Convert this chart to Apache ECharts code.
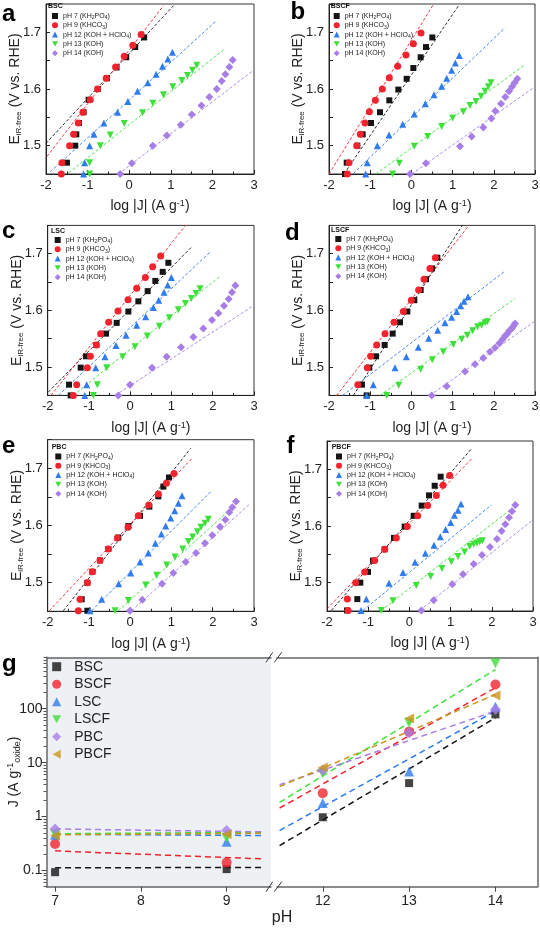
<!DOCTYPE html>
<html><head><meta charset="utf-8">
<script src="https://cdn.jsdelivr.net/npm/echarts@6/dist/echarts.min.js"></script>
<style>html,body{margin:0;padding:0;background:#fff}#c{width:540px;height:928px}</style>
</head><body><div id="c"></div>
<script>
// ---------- DATA ----------
const phNames = ['pH 7 (KH2PO4)', 'pH 9 (KHCO3)', 'pH 12 (KOH + HClO4)', 'pH 13 (KOH)', 'pH 14 (KOH)'];
const phRich = ['pH 7 (KH{s|2}PO{s|4})', 'pH 9 (KHCO{s|3})', 'pH 12 (KOH + HClO{s|4})', 'pH 13 (KOH)', 'pH 14 (KOH)'];
const panelTitles = ['BSC', 'BSCF', 'LSC', 'LSCF', 'PBC', 'PBCF'];
const panelLetters = ['a', 'b', 'c', 'd', 'e', 'f'];
const xTicksPanel = [-2, -1, 0, 1, 2, 3];
const yTicksPanel = [1.5, 1.6, 1.7];

// panel a (BSC)
const a_pH7 = [[0.36,1.691],[0.144,1.674],[-0.072,1.656],[-0.304,1.638],[-0.536,1.619],[-0.752,1.6],[-0.976,1.581],[-1.096,1.559],[-1.208,1.54],[-1.272,1.52],[-1.296,1.5],[-1.496,1.47]];
const a_pH9 = [[0.288,1.696],[0.088,1.677],[-0.12,1.658],[-0.328,1.639],[-0.552,1.619],[-0.76,1.6],[-0.936,1.581],[-1.112,1.559],[-1.224,1.54],[-1.336,1.52],[-1.432,1.5],[-1.616,1.47],[-1.632,1.45]];
const a_pH12 = [[1.04,1.665],[0.928,1.653],[0.8,1.64],[0.648,1.626],[0.448,1.611],[0.2,1.596],[-0.032,1.578],[-0.28,1.559],[-0.608,1.54],[-0.848,1.52],[-0.952,1.5],[-1.072,1.47],[-1.096,1.45]];
const a_pH13 = [[1.624,1.642],[1.52,1.633],[1.4,1.624],[1.264,1.615],[1.048,1.604],[0.824,1.59],[0.568,1.575],[0.32,1.558],[-0.12,1.539],[-0.456,1.519],[-0.696,1.5],[-0.952,1.47],[-0.952,1.45]];
const a_pH14 = [[2.488,1.651],[2.408,1.639],[2.312,1.626],[2.224,1.614],[2.104,1.6],[1.928,1.586],[1.736,1.571],[1.504,1.555],[1.24,1.537],[0.904,1.518],[0.568,1.5],[0.064,1.469],[-0.216,1.45]];
const a_fits = [[[-2,1.504],[1.064,1.747]], [[-1.976,1.481],[0.824,1.747]], [[-1.896,1.454],[2.104,1.721]], [[-1.456,1.452],[2.264,1.669]], [[-0.256,1.45],[2.984,1.633]]];

// panel b (BSCF)
const b_pH7 = [[0.508,1.691],[0.354,1.674],[0.225,1.656],[0.047,1.637],[-0.115,1.618],[-0.317,1.599],[-0.536,1.58],[-0.762,1.559],[-0.98,1.54],[-1.183,1.52],[-1.312,1.5],[-1.57,1.47],[-1.612,1.45]];
const b_pH9 = [[0.233,1.699],[0.047,1.68],[-0.131,1.66],[-0.333,1.64],[-0.536,1.62],[-0.706,1.6],[-0.875,1.58],[-1.02,1.56],[-1.126,1.54],[-1.24,1.52],[-1.328,1.5],[-1.515,1.47],[-1.555,1.45]];
const b_pH12 = [[1.163,1.659],[1.066,1.646],[0.977,1.633],[0.856,1.619],[0.735,1.605],[0.549,1.59],[0.338,1.574],[0.071,1.556],[-0.212,1.538],[-0.544,1.519],[-0.827,1.5],[-1.07,1.47],[-1.11,1.45]];
const b_pH13 = [[1.932,1.611],[1.867,1.604],[1.786,1.596],[1.689,1.587],[1.568,1.578],[1.422,1.571],[1.26,1.56],[1.001,1.549],[0.735,1.534],[0.395,1.516],[0.071,1.499],[-0.293,1.469],[-0.455,1.45]];
const b_pH14 = [[2.571,1.618],[2.506,1.611],[2.442,1.604],[2.369,1.596],[2.28,1.586],[2.175,1.574],[2.037,1.561],[1.94,1.548],[1.746,1.532],[1.463,1.516],[1.18,1.499],[0.354,1.469],[-0.034,1.45]];
const b_fits = [[[-1.636,1.45],[1.163,1.749]], [[-2,1.45],[0.532,1.749]], [[-1.41,1.451],[2.27,1.708]], [[-0.859,1.45],[2.757,1.643]], [[0.006,1.45],[2.96,1.602]]];

// panel c (LSC)
const c_pH7 = [[0.924,1.684],[0.787,1.668],[0.609,1.652],[0.423,1.634],[0.197,1.616],[-0.045,1.598],[-0.328,1.578],[-0.586,1.559],[-0.821,1.539],[-1.071,1.519],[-1.2,1.499],[-1.483,1.469],[-1.443,1.45]];
const c_pH9 = [[0.738,1.696],[0.544,1.677],[0.367,1.658],[0.157,1.639],[-0.053,1.619],[-0.296,1.599],[-0.522,1.579],[-0.716,1.559],[-0.821,1.539],[-0.966,1.519],[-1.039,1.499],[-1.297,1.469],[-1.378,1.45]];
const c_pH12 = [[0.997,1.658],[0.908,1.645],[0.819,1.632],[0.69,1.618],[0.561,1.605],[0.375,1.589],[0.157,1.574],[-0.102,1.556],[-0.344,1.538],[-0.611,1.518],[-0.837,1.499],[-1.055,1.469],[-1.1,1.45]];
const c_pH13 = [[1.691,1.638],[1.594,1.63],[1.481,1.621],[1.336,1.612],[1.166,1.601],[0.948,1.587],[0.706,1.572],[0.415,1.555],[0.116,1.536],[-0.183,1.518],[-0.57,1.499],[-0.796,1.469],[-0.893,1.45]];
const c_pH14 = [[2.548,1.644],[2.467,1.632],[2.386,1.62],[2.273,1.608],[2.136,1.595],[1.982,1.583],[1.772,1.568],[1.53,1.553],[1.231,1.535],[0.884,1.518],[0.528,1.499],[-0.005,1.469],[-0.288,1.45]];
const c_fits = [[[-1.984,1.456],[1.49,1.712]], [[-1.919,1.45],[1.352,1.751]], [[-1.742,1.45],[1.95,1.704]], [[-1.378,1.45],[2.192,1.661]], [[-0.368,1.45],[3,1.609]]];

// panel d (LSCF)
const d_pH7 = [[0.629,1.693],[0.5,1.674],[0.354,1.655],[0.225,1.636],[0.071,1.618],[-0.099,1.598],[-0.277,1.579],[-0.455,1.559],[-0.649,1.539],[-0.859,1.519],[-1.021,1.499],[-1.2,1.469],[-1.086,1.45]];
const d_pH9 = [[0.581,1.693],[0.451,1.674],[0.306,1.655],[0.176,1.636],[-0.002,1.618],[-0.196,1.598],[-0.422,1.579],[-0.641,1.559],[-0.843,1.539],[-0.989,1.519],[-1.07,1.499],[-1.3,1.469]];
const d_pH12 = [[1.374,1.624],[1.277,1.616],[1.196,1.608],[1.099,1.598],[0.977,1.588],[0.816,1.578],[0.638,1.565],[0.419,1.551],[0.168,1.535],[-0.123,1.518],[-0.398,1.499],[-0.924,1.469],[-1.086,1.45]];
const d_pH13 = [[1.843,1.58],[1.786,1.578],[1.705,1.574],[1.608,1.571],[1.487,1.564],[1.357,1.556],[1.22,1.549],[1.018,1.54],[0.775,1.527],[0.508,1.513],[0.225,1.496],[-0.309,1.468],[-0.6,1.45]];
const d_pH14 = [[2.515,1.577],[2.474,1.572],[2.434,1.568],[2.377,1.564],[2.328,1.559],[2.272,1.555],[2.215,1.549],[2.134,1.542],[2.029,1.534],[1.908,1.527],[1.746,1.516],[1.544,1.505],[1.301,1.492],[0.856,1.466],[0.492,1.45]];
const d_fits = [[[-1.409,1.45],[1.244,1.751]], [[-1.814,1.45],[1.406,1.751]], [[-1.668,1.45],[2.248,1.668]], [[-0.762,1.45],[2.515,1.621]], [[0.451,1.45],[3,1.581]]];

// panel e (PBC)
const e_pH7 = [[0.94,1.684],[0.803,1.668],[0.682,1.651],[0.464,1.633],[0.237,1.617],[-0.045,1.599],[-0.288,1.579],[-0.53,1.559],[-0.732,1.539],[-0.918,1.519],[-1.039,1.5],[-1.176,1.471],[-1.039,1.451]];
const e_pH9 = [[1.061,1.691],[0.876,1.674],[0.682,1.655],[0.448,1.636],[0.197,1.617],[-0.053,1.597],[-0.312,1.578],[-0.53,1.559],[-0.732,1.539],[-0.918,1.519],[-1.039,1.5],[-1.216,1.471],[-1.257,1.451]];
const e_pH12 = [[1.255,1.652],[1.167,1.639],[1.078,1.626],[0.981,1.613],[0.86,1.599],[0.755,1.585],[0.609,1.569],[0.439,1.552],[0.237,1.536],[0.011,1.517],[-0.28,1.498],[-0.691,1.471],[-0.974,1.451]];
const e_pH13 = [[1.893,1.611],[1.813,1.604],[1.716,1.597],[1.627,1.589],[1.514,1.58],[1.409,1.572],[1.271,1.559],[1.086,1.545],[0.884,1.531],[0.641,1.513],[0.375,1.496],[-0.045,1.469],[-0.368,1.451]];
const e_pH14 = [[2.564,1.642],[2.475,1.632],[2.402,1.623],[2.305,1.61],[2.176,1.598],[1.99,1.583],[1.813,1.569],[1.595,1.552],[1.344,1.536],[1.045,1.517],[0.771,1.498],[0.294,1.47],[-0.005,1.451]];
const e_fits = [[[-1.62,1.451],[1.465,1.735]], [[-1.96,1.451],[1.514,1.719]], [[-0.934,1.451],[1.95,1.659]], [[-0.288,1.451],[2.499,1.633]], [[0.036,1.451],[2.887,1.637]]];

// panel f (PBCF)
const f_pH7 = [[0.759,1.687],[0.613,1.671],[0.476,1.654],[0.298,1.636],[0.104,1.618],[-0.115,1.599],[-0.374,1.579],[-0.6,1.559],[-0.883,1.539],[-1.005,1.519],[-1.191,1.5],[-1.264,1.471],[-1.515,1.451]];
const f_pH9 = [[0.977,1.689],[0.816,1.672],[0.654,1.654],[0.443,1.636],[0.201,1.618],[-0.05,1.599],[-0.317,1.579],[-0.6,1.559],[-0.843,1.539],[-1.086,1.519],[-1.304,1.5],[-1.506,1.471],[-1.49,1.451]];
const f_pH12 = [[1.252,1.639],[1.18,1.628],[1.091,1.619],[1.002,1.606],[0.88,1.594],[0.751,1.581],[0.597,1.566],[0.387,1.552],[0.136,1.536],[-0.155,1.518],[-0.495,1.499],[-1.045,1.471],[-1.175,1.451]];
const f_pH13 = [[1.77,1.574],[1.706,1.572],[1.641,1.57],[1.56,1.568],[1.463,1.564],[1.341,1.554],[1.18,1.546],[1.018,1.537],[0.791,1.525],[0.516,1.511],[0.168,1.495],[-0.398,1.468],[-0.681,1.451]];
const f_pH14 = [[2.571,1.637],[2.49,1.626],[2.417,1.615],[2.328,1.603],[2.239,1.591],[2.126,1.577],[1.956,1.563],[1.762,1.549],[1.56,1.533],[1.301,1.515],[1.042,1.497],[0.589,1.469],[0.29,1.451]];
const f_fits = [[[-1.895,1.451],[1.503,1.736]], [[-2,1.454],[1.503,1.718]], [[-1.126,1.451],[1.989,1.637]], [[-0.681,1.451],[2.434,1.628]], [[0.249,1.451],[3,1.611]]];

// panel g
const gNames = ['BSC', 'BSCF', 'LSC', 'LSCF', 'PBC', 'PBCF'];
const gPhLeft = [7, 9];
const gPhRight = [12, 13, 14];
const gTicksXLeft = [7, 8, 9];
const gTicksXRight = [12, 13, 14];
const gTicksY = [0.1, 1, 10, 100];
const g_BSC  = [0.093, 0.106, 0.97, 4.17, 78.6];
const g_BSCF = [0.31, 0.14, 2.72, 37.6, 282];
const g_LSC  = [0.46, 0.34, 1.78, 6.84, 109];
const g_LSCF = [0.47, 0.40, 6.3, 55, 689];
const g_PBC  = [0.59, 0.55, 7.24, 36, 97];
const g_PBCF = [0.44, 0.47, 8.1, 66, 176];
// fitted lines: left [pH7 value, pH9.41 value], right [pH11.5 value, pH14 value]
const gFitLeftX = [7, 9.41];
const gFitRightX = [11.5, 14];
const g_fitLeft  = [[0.112, 0.114], [0.231, 0.164], [0.47, 0.445], [0.48, 0.51], [0.59, 0.52], [0.46, 0.49]];
const g_fitRight = [[0.29, 68], [1.44, 245], [0.55, 90.6], [1.83, 533], [3.88, 90.6], [3.6, 184]];

// ---------- STYLE / LAYOUT ----------
const FONT = 'Liberation Sans, Arial, Helvetica, sans-serif';
const INK = '#222';
const colors = ['#151515', '#f3232e', '#2f7cf0', '#3ee03a', '#a77de6', '#c8961c'];
const DOWN = 'path://M0,0L10,0L5,9Z';
const LEFT = 'path://M0,5L9,0L9,10Z';
const pSymbols = ['rect', 'circle', 'triangle', DOWN, 'diamond'];
const pSizes = [6, 7, 7, 7, 8];
const gSymbols = ['rect', 'circle', 'triangle', DOWN, 'diamond', LEFT];
const gSizes = [8, 10, 10, 10, 11, 10];

const panelData = [
  [a_pH7, a_pH9, a_pH12, a_pH13, a_pH14],
  [b_pH7, b_pH9, b_pH12, b_pH13, b_pH14],
  [c_pH7, c_pH9, c_pH12, c_pH13, c_pH14],
  [d_pH7, d_pH9, d_pH12, d_pH13, d_pH14],
  [e_pH7, e_pH9, e_pH12, e_pH13, e_pH14],
  [f_pH7, f_pH9, f_pH12, f_pH13, f_pH14]
];
const panelFits = [a_fits, b_fits, c_fits, d_fits, e_fits, f_fits];
const gData = [g_BSC, g_BSCF, g_LSC, g_LSCF, g_PBC, g_PBCF];

const layout = [
  {grid: {left: 46, top: 4, width: 208, height: 170}, legend: [52, 11.5], title: [48, 6], letter: [2, 14.7]},
  {grid: {left: 329, top: 4, width: 206, height: 170}, legend: [333.7, 11.5], title: [330.7, 6], letter: [290.5, 12.4]},
  {grid: {left: 47.7, top: 225.4, width: 206.3, height: 170}, legend: [54.7, 235.5], title: [51, 230.7], letter: [2, 231.7]},
  {grid: {left: 329, top: 225.4, width: 206, height: 170}, legend: [335.3, 234.5], title: [331, 230], letter: [285, 233.4]},
  {grid: {left: 47.7, top: 439.7, width: 206.3, height: 171.6}, legend: [55.3, 452], title: [51.7, 446.7], letter: [2, 446.7]},
  {grid: {left: 327, top: 441, width: 206, height: 170}, legend: [336, 452], title: [331.7, 447.3], letter: [286.5, 446.7]}
];

const grids = [], xAxes = [], yAxes = [], series = [], legends = [], graphics = [];

layout.forEach((L, i) => {
  grids.push(Object.assign({show: true, borderColor: '#333', borderWidth: 1, backgroundColor: 'transparent', outerBoundsMode: 'none'}, L.grid));
  xAxes.push({
    gridIndex: i, type: 'value', min: xTicksPanel[0], max: xTicksPanel[xTicksPanel.length - 1], interval: 1,
    axisLine: {show: true, onZero: false, lineStyle: {color: INK, width: 1}},
    axisTick: {show: true, inside: true, length: 4, lineStyle: {color: INK}},
    minorTick: {show: true, splitNumber: 2, length: 2.5, lineStyle: {color: INK}},
    axisLabel: {fontSize: 13, color: INK, margin: 5, fontFamily: FONT},
    splitLine: {show: false},
    name: 'log |J| (A g{sup|-1})', nameLocation: 'middle', nameGap: 25.5, nameMoveOverlap: false,
    nameTextStyle: {fontSize: 14, color: INK, fontFamily: FONT, rich: {sup: {fontSize: 9, lineHeight: 8, verticalAlign: 'top', color: INK, fontFamily: FONT}}}
  });
  yAxes.push({
    gridIndex: i, type: 'value', min: 1.45, max: 1.75, interval: 0.05,
    axisLine: {show: true, onZero: false, lineStyle: {color: INK, width: 1}},
    axisTick: {show: true, inside: true, length: 4, lineStyle: {color: INK}},
    axisLabel: {fontSize: 13, color: INK, margin: 5, fontFamily: FONT,
      formatter: v => { const r = Math.round(v * 10) / 10; return (Math.abs(v - r) < 1e-6 && yTicksPanel.indexOf(r) >= 0) ? r.toFixed(1) : ''; }},
    splitLine: {show: false},
    name: 'E{s|iR-free} (V vs. RHE)', nameLocation: 'middle', nameGap: 23, nameMoveOverlap: false,
    nameTextStyle: {fontSize: 14, lineHeight: 16, color: INK, fontFamily: FONT, rich: {s: {fontSize: 8, lineHeight: 8, verticalAlign: 'bottom', color: INK, fontFamily: FONT}}}
  });
  const pd = panelData[i], pf = panelFits[i];
  for (let k = 0; k < 5; k++) {
    series.push({type: 'line', name: 'fit' + i + '_' + k, xAxisIndex: i, yAxisIndex: i, data: pf[k], symbol: 'none', silent: true, z: 2,
      lineStyle: {color: colors[k], width: 1, type: [3, 2], opacity: 0.9}});
  }
  for (let k = 0; k < 5; k++) {
    series.push({type: 'scatter', name: phNames[k], xAxisIndex: i, yAxisIndex: i, data: pd[k], symbol: pSymbols[k], symbolSize: pSizes[k], z: 3,
      itemStyle: {color: colors[k], opacity: 1}});
  }
  legends.push({
    data: phNames, orient: 'vertical', left: L.legend[0], top: L.legend[1], itemWidth: 6, itemHeight: 6, itemGap: 0.3,
    selectedMode: false, padding: 0,
    formatter: n => phRich[phNames.indexOf(n)],
    textStyle: {fontSize: 7, lineHeight: 9, color: INK, fontFamily: FONT, rich: {s: {fontSize: 5, lineHeight: 5, verticalAlign: 'bottom', color: INK, fontFamily: FONT}}}
  });
  graphics.push({type: 'text', x: L.title[0], y: L.title[1], z: 10, style: {text: panelTitles[i], font: 'bold 7px ' + FONT, fill: '#111', verticalAlign: 'middle'}});
  graphics.push({type: 'text', x: L.letter[0], y: L.letter[1], z: 10, style: {text: panelLetters[i], font: 'bold 24px ' + FONT, fill: '#000', verticalAlign: 'middle'}});
});

// ---- panel g ----
const gTop = 657.3, gH = 229.4;
const gL = grids.length;
grids.push({show: true, left: 46.5, top: gTop, width: 224.5, height: gH, backgroundColor: '#eef1f3', borderWidth: 0, outerBoundsMode: 'none'});
grids.push({show: false, left: 277, top: gTop, width: 260.4, height: gH, outerBoundsMode: 'none'});
const gR = gL + 1;
const gAxisLine = {show: true, onZero: false, lineStyle: {color: '#666', width: 1.5}};
const gxBase = {type: 'value', splitLine: {show: false}};
const xLb = xAxes.length;
xAxes.push(Object.assign({}, gxBase, {gridIndex: gL, min: 6.9, max: 9.517, axisLine: gAxisLine,
  axisTick: {show: true, length: 5, customValues: gTicksXLeft, lineStyle: {color: '#444'}},
  axisLabel: {customValues: gTicksXLeft, fontSize: 14, color: INK, margin: 7, fontFamily: FONT}}));
xAxes.push(Object.assign({}, gxBase, {gridIndex: gL, position: 'top', min: 6.9, max: 9.517, axisLine: gAxisLine, axisTick: {show: false}, axisLabel: {show: false}}));
const xRb = xAxes.length;
xAxes.push(Object.assign({}, gxBase, {gridIndex: gR, min: 11.47, max: 14.486, axisLine: gAxisLine,
  axisTick: {show: true, length: 5, customValues: gTicksXRight, lineStyle: {color: '#444'}},
  axisLabel: {customValues: gTicksXRight, fontSize: 14, color: INK, margin: 7, fontFamily: FONT}}));
xAxes.push(Object.assign({}, gxBase, {gridIndex: gR, position: 'top', min: 11.47, max: 14.486, axisLine: gAxisLine, axisTick: {show: false}, axisLabel: {show: false}}));

const gMinor = [];
[0.01, 0.1, 1, 10, 100].forEach(d => { for (let m = 2; m <= 9; m++) { const v = +(m * d).toPrecision(3); if (v >= 0.05 && v <= 900) gMinor.push(v); } });
const yLb = yAxes.length;
yAxes.push({gridIndex: gL, type: 'log', logBase: 10, min: 0.05, max: 900, position: 'left', axisLine: gAxisLine,
  axisTick: {show: true, length: 5, customValues: gTicksY, lineStyle: {color: '#444'}},
  axisLabel: {customValues: gTicksY, fontSize: 14, color: INK, margin: 4, fontFamily: FONT, formatter: v => String(+(+v).toPrecision(3))},
  splitLine: {show: false}, minorTick: {show: false},
  name: 'J (A g{sup|-1}{sub|oxide})', nameLocation: 'middle', nameGap: 24, nameMoveOverlap: false,
  nameTextStyle: {fontSize: 14, lineHeight: 16, color: INK, fontFamily: FONT, rich: {
    sup: {fontSize: 9, lineHeight: 8, verticalAlign: 'top', color: INK, fontFamily: FONT},
    sub: {fontSize: 9, lineHeight: 8, verticalAlign: 'bottom', color: INK, fontFamily: FONT}}}
});
yAxes.push({gridIndex: gL, type: 'log', logBase: 10, min: 0.05, max: 900, position: 'left', offset: 0,
  axisLine: {show: true, onZero: false, lineStyle: {color: '#666', width: 1.5, opacity: 0}},
  axisTick: {show: true, inside: false, length: 3, customValues: gMinor, lineStyle: {color: '#555', width: 1}}, axisLabel: {show: false}, splitLine: {show: false}});
const yRb = yAxes.length;
yAxes.push({gridIndex: gR, type: 'log', logBase: 10, min: 0.05, max: 900, position: 'right', axisLine: gAxisLine,
  axisTick: {show: false}, axisLabel: {show: false}, splitLine: {show: false}});

gNames.forEach((nm, k) => {
  const vals = gData[k];
  series.push({type: 'line', name: nm + ' fit L', xAxisIndex: xLb, yAxisIndex: yLb, symbol: 'none', silent: true, z: 2,
    data: gFitLeftX.map((x, j) => [x, g_fitLeft[k][j]]), lineStyle: {color: colors[k], width: 1.5, type: [6, 4]}});
  series.push({type: 'line', name: nm + ' fit R', xAxisIndex: xRb, yAxisIndex: yRb, symbol: 'none', silent: true, z: 2,
    data: gFitRightX.map((x, j) => [x, g_fitRight[k][j]]), lineStyle: {color: colors[k], width: 1.5, type: [6, 4]}});
  series.push({type: 'scatter', name: nm, xAxisIndex: xLb, yAxisIndex: yLb, symbol: gSymbols[k], symbolSize: gSizes[k], z: 3,
    data: gPhLeft.map((x, j) => [x, vals[j]]), itemStyle: {color: colors[k]}});
  series.push({type: 'scatter', name: nm, xAxisIndex: xRb, yAxisIndex: yRb, symbol: gSymbols[k], symbolSize: gSizes[k], z: 3,
    data: gPhRight.map((x, j) => [x, vals[j + 2]]), itemStyle: {color: colors[k]}});
});
legends.push({data: gNames, orient: 'vertical', left: 52.2, top: 658.7, itemWidth: 9, itemHeight: 9, itemGap: 1.5, symbolKeepAspect: true,
  selectedMode: false, padding: 0, formatter: n => '{p| }' + n,
  textStyle: {fontSize: 14, lineHeight: 16, color: INK, fontFamily: FONT, rich: {p: {width: 8, fontSize: 14, lineHeight: 16}}}});

graphics.push({type: 'text', x: 2, y: 664.4, z: 10, style: {text: 'g', font: 'bold 24px ' + FONT, fill: '#000', verticalAlign: 'middle'}});
graphics.push({type: 'text', x: 282, y: 918, z: 10, style: {text: 'pH', font: '16px ' + FONT, fill: INK, align: 'center', verticalAlign: 'middle'}});
// axis break marks
[gTop, gTop + gH].forEach(yy => {
  graphics.push({type: 'line', z: 10, shape: {x1: 266, y1: yy + 5, x2: 272.7, y2: yy - 5}, style: {stroke: '#333', lineWidth: 1}});
  graphics.push({type: 'line', z: 10, shape: {x1: 274.3, y1: yy + 5, x2: 281.7, y2: yy - 5}, style: {stroke: '#333', lineWidth: 1}});
});

const chart = echarts.init(document.getElementById('c'), null, {renderer: 'canvas'});
chart.setOption({
  animation: false,
  backgroundColor: '#fff',
  textStyle: {fontFamily: FONT},
  grid: grids, xAxis: xAxes, yAxis: yAxes, series: series, legend: legends, graphic: graphics
});
</script></body></html>
